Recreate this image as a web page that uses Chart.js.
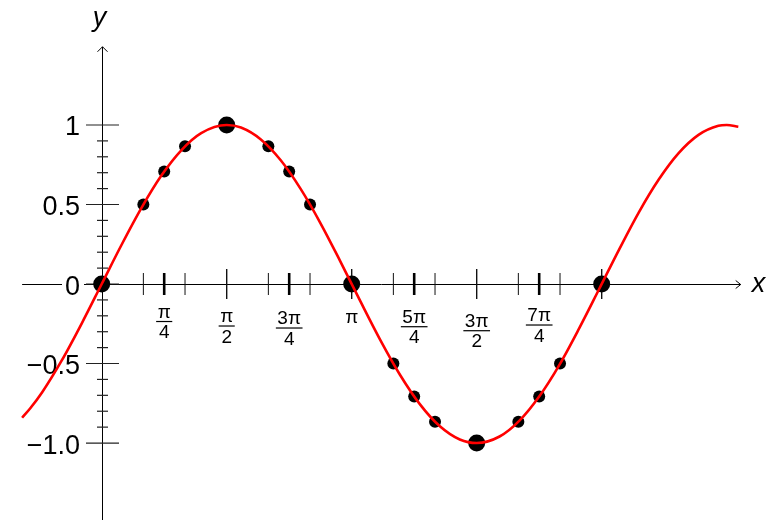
<!DOCTYPE html>
<html>
<head>
<meta charset="utf-8">
<script src="https://cdn.jsdelivr.net/npm/chart.js@4/dist/chart.umd.min.js"></script>
<style>
html,body{margin:0;padding:0;background:#fff;}
#wrap{width:766px;height:520px;}
</style>
</head>
<body>
<div id="wrap"><canvas id="c" width="766" height="520"></canvas></div>
<script>
// ---- data ----
const curveX = [-1.00,-0.90,-0.75,-0.50,-0.25,0.00,0.25,0.50,0.75,1.00,1.25,1.571,1.75,2.00,2.25,2.50,2.75,3.00,3.25,3.50,3.75,4.00,4.25,4.50,4.712,5.00,5.25,5.50,5.75,6.00,6.25,6.50,6.75,7.00,7.25,7.50,7.75,7.854,8.00];
const curveY = [-0.841,-0.783,-0.682,-0.479,-0.247,0.000,0.247,0.479,0.682,0.841,0.949,1.000,0.984,0.909,0.778,0.598,0.382,0.141,-0.108,-0.351,-0.572,-0.757,-0.895,-0.978,-1.000,-0.959,-0.859,-0.706,-0.510,-0.279,-0.033,0.215,0.451,0.657,0.823,0.938,0.995,1.000,0.989];

// dots: x in multiples of pi
const smallDotXPi = [1/6,1/4,1/3,2/3,3/4,5/6,7/6,5/4,4/3,5/3,7/4,11/6];
const smallDotY   = [0.5,0.707,0.866,0.866,0.707,0.5,-0.5,-0.707,-0.866,-0.866,-0.707,-0.5];
const bigDotXPi   = [0,1/2,1,3/2,2];
const bigDotY     = [0,1,0,-1,0];

// axis ticks
const xThinTicksPi = [1/6,1/3,2/3,5/6,7/6,4/3,5/3,11/6];
const xBoldTicksPi = [1/4,3/4,5/4,7/4];
const xHalfTicksPi = [1/2,1,3/2,2];
const xLabelPi  = [1/4,1/2,3/4,1,5/4,3/2,7/4];
const xLabelNum = ['π','π','3π','π','5π','3π','7π'];
const xLabelDen = ['4','2','4','','4','2','4'];
const yMajorTicks = [1,0.5,0,-0.5,-1];
const yTickLabels = ['1','0.5','0','−0.5','−1.0'];
const yMinorTicks = [0.9,0.8,0.7,0.6,0.4,0.3,0.2,0.1,-0.1,-0.2,-0.3,-0.4,-0.6,-0.7,-0.8,-0.9];

// ---- layout / style (not data) ----
const labelDrop = [37.5,42,44,39,42.7,46.7,41]; // px below axis for fraction bar
const FONT = '"Liberation Sans", Arial, sans-serif';

const toPts = (xs, ys, k) => xs.map((x,i)=>({x: x*k, y: ys[i]}));

const axesPlugin = {
  id: 'axesPlugin',
  beforeDatasetsDraw(chart) {
    const ctx = chart.ctx;
    const xs = chart.scales.x, ys = chart.scales.y;
    const X = v => xs.getPixelForValue(v);
    const Y = v => ys.getPixelForValue(v);
    const x0 = X(0), y0 = Y(0);
    ctx.save();
    ctx.strokeStyle = '#000';
    ctx.fillStyle = '#000';
    // x axis
    ctx.lineWidth = 1;
    const ayy = Math.round(y0)+0.5;
    ctx.beginPath();
    ctx.moveTo(X(-1.0), ayy);
    ctx.lineTo(X(8.03), ayy);
    ctx.stroke();
    const ax = X(8.03);
    ctx.beginPath();
    ctx.moveTo(ax-5, ayy-4); ctx.lineTo(ax, ayy); ctx.lineTo(ax-5, ayy+4);
    ctx.stroke();
    // y axis
    const yx = Math.round(x0)+0.5;
    ctx.beginPath();
    ctx.moveTo(yx, Y(-1.6));
    ctx.lineTo(yx, Y(1.492));
    ctx.stroke();
    const ayTop = Y(1.492);
    ctx.beginPath();
    ctx.moveTo(yx-5, ayTop+5); ctx.lineTo(yx, ayTop); ctx.lineTo(yx+5, ayTop+5);
    ctx.stroke();
    // y ticks
    ctx.strokeStyle = '#222';
    ctx.lineWidth = 1.2;
    yMinorTicks.forEach(v=>{
      const py = Y(v);
      ctx.beginPath(); ctx.moveTo(yx-5.5, py); ctx.lineTo(yx+5.5, py); ctx.stroke();
    });
    yMajorTicks.forEach(v=>{
      const py = Y(v);
      ctx.beginPath(); ctx.moveTo(yx-16.5, py); ctx.lineTo(yx+16.5, py); ctx.stroke();
    });
    // x ticks
    ctx.strokeStyle = '#111';
    ctx.lineWidth = 1;
    xThinTicksPi.forEach(v=>{
      const px = X(v*Math.PI);
      ctx.beginPath(); ctx.moveTo(px, y0-11); ctx.lineTo(px, y0+11); ctx.stroke();
    });
    ctx.lineWidth = 2.6;
    ctx.strokeStyle = '#000';
    xBoldTicksPi.forEach(v=>{
      const px = X(v*Math.PI);
      ctx.beginPath(); ctx.moveTo(px, y0-11); ctx.lineTo(px, y0+11); ctx.stroke();
    });
    ctx.lineWidth = 1.4;
    ctx.strokeStyle = '#111';
    xHalfTicksPi.forEach(v=>{
      const px = X(v*Math.PI);
      ctx.beginPath(); ctx.moveTo(px, y0-15); ctx.lineTo(px, y0+15); ctx.stroke();
    });
    // y labels
    ctx.font = '27px ' + FONT;
    ctx.textAlign = 'right';
    ctx.textBaseline = 'alphabetic';
    yMajorTicks.forEach((v,i)=>{
      const py = Y(v);
      if (v === 0) {
        ctx.fillStyle = '#fff';
        ctx.fillRect(62, py-12, 22, 24);
      }
      ctx.fillStyle = '#000';
      ctx.fillText(yTickLabels[i], 80, py+10.5);
    });
    // x labels (fractions)
    ctx.textAlign = 'center';
    ctx.font = '19px ' + FONT;
    xLabelPi.forEach((v,i)=>{
      const px = X(v*Math.PI);
      const by = y0 + labelDrop[i];
      if (xLabelDen[i] === '') {
        ctx.fillText(xLabelNum[i], px, by);
      } else {
        const w = Math.max(ctx.measureText(xLabelNum[i]).width, ctx.measureText(xLabelDen[i]).width) + 3;
        ctx.fillText(xLabelNum[i], px, by-4);
        ctx.fillRect(px - w/2, by-0.6, w, 1.2);
        ctx.fillText(xLabelDen[i], px, by+16.5);
      }
    });
    // axis names
    ctx.font = 'italic 27px ' + FONT;
    ctx.textAlign = 'left';
    ctx.fillText('x', X(8.03)+11, y0+8);
    ctx.textAlign = 'center';
    ctx.fillText('y', yx-3, Y(1.62));
    ctx.restore();
  }
};

new Chart(document.getElementById('c'), {
  type: 'scatter',
  data: {
    datasets: [
      {
        label: 'sin x',
        data: toPts(curveX, curveY, 1),
        showLine: true,
        borderColor: '#ff0000',
        borderWidth: 2.6,
        pointRadius: 0,
        cubicInterpolationMode: 'monotone',
        order: 0
      },
      {
        label: 'small',
        data: toPts(smallDotXPi, smallDotY, Math.PI),
        showLine: false,
        pointRadius: 6,
        pointBackgroundColor: '#000',
        pointBorderWidth: 0,
        order: 1
      },
      {
        label: 'big',
        data: toPts(bigDotXPi, bigDotY, Math.PI),
        showLine: false,
        pointRadius: 8.5,
        pointBackgroundColor: '#000',
        pointBorderWidth: 0,
        order: 2
      }
    ]
  },
  options: {
    responsive: false,
    animation: false,
    devicePixelRatio: 1,
    layout: { padding: 0, autoPadding: false },
    plugins: { legend: { display: false }, tooltip: { enabled: false } },
    scales: {
      x: { type: 'linear', display: false, min: -1.278, max: 8.348 },
      y: { type: 'linear', display: false, min: -1.484, max: 1.786 }
    }
  },
  plugins: [axesPlugin]
});
</script>
</body>
</html>
